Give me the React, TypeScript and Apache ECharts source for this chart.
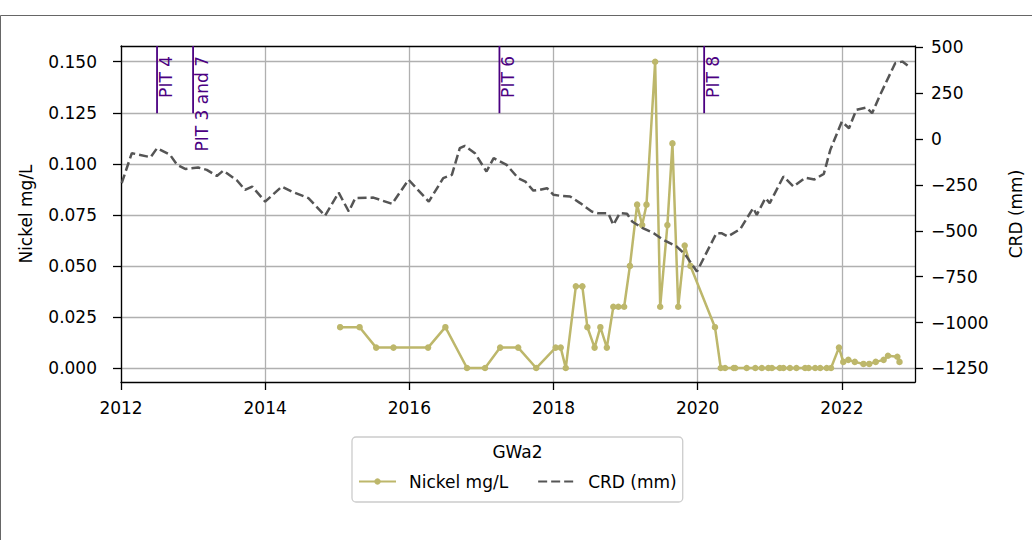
import React, { useEffect, useRef } from 'react';
import * as echarts from 'echarts';

// ---- data (decimal years) ----
const nickelDates = [
  2015.04, 2015.31, 2015.54, 2015.78, 2016.26, 2016.5, 2016.8, 2017.05, 2017.26, 2017.51,
  2017.76, 2018.03, 2018.1, 2018.17, 2018.31, 2018.4, 2018.47, 2018.57, 2018.65, 2018.74,
  2018.83, 2018.9, 2018.98, 2019.06, 2019.16, 2019.23, 2019.29, 2019.41, 2019.48, 2019.58,
  2019.65, 2019.73, 2019.82, 2019.9, 2020.24, 2020.32, 2020.38, 2020.5, 2020.52, 2020.68,
  2020.8, 2020.89, 2020.98, 2021.03, 2021.14, 2021.19, 2021.28, 2021.37, 2021.49, 2021.54,
  2021.63, 2021.7, 2021.79, 2021.85, 2021.96, 2022.02, 2022.09, 2022.18, 2022.3, 2022.38,
  2022.47, 2022.58, 2022.64, 2022.77, 2022.8,
];
const nickelValues = [
  0.02, 0.02, 0.01, 0.01, 0.01, 0.02, 0, 0, 0.01, 0.01,
  0, 0.01, 0.01, 0, 0.04, 0.04, 0.02, 0.01, 0.02, 0.01,
  0.03, 0.03, 0.03, 0.05, 0.08, 0.07, 0.08, 0.15, 0.03, 0.07,
  0.11, 0.03, 0.06, 0.05, 0.02, 0, 0, 0, 0, 0,
  0, 0, 0, 0, 0, 0, 0, 0, 0, 0,
  0, 0, 0, 0, 0.01, 0.003, 0.004, 0.003, 0.002, 0.002,
  0.003, 0.004, 0.006, 0.0055, 0.003,
];
const crdDates = [
  2012.01, 2012.15, 2012.41, 2012.5, 2012.68, 2012.78, 2012.89, 2013.07, 2013.19, 2013.33,
  2013.42, 2013.61, 2013.72, 2013.82, 2014.0, 2014.23, 2014.37, 2014.6, 2014.83, 2015.02,
  2015.16, 2015.25, 2015.5, 2015.76, 2015.99, 2016.27, 2016.47, 2016.59, 2016.7, 2016.77,
  2016.91, 2017.07, 2017.17, 2017.35, 2017.51, 2017.61, 2017.72, 2017.81, 2017.91, 2018.0,
  2018.09, 2018.23, 2018.37, 2018.53, 2018.62, 2018.76, 2018.83, 2018.92, 2019.02, 2019.09,
  2019.23, 2019.39, 2019.52, 2019.71, 2019.83, 2019.99, 2020.26, 2020.33, 2020.42, 2020.59,
  2020.77, 2020.82, 2020.94, 2021.0, 2021.19, 2021.33, 2021.49, 2021.62, 2021.75, 2021.84,
  2022.0, 2022.1, 2022.2, 2022.34, 2022.42, 2022.53, 2022.74, 2022.84, 2022.92,
];
const crdValues = [
  -240, -77, -99, -50, -86, -141, -163, -155, -168, -201,
  -172, -226, -277, -259, -341, -259, -286, -322, -418, -292,
  -395, -322, -319, -353, -222, -341, -213, -195, -50, -37,
  -77, -177, -104, -141, -213, -232, -281, -277, -268, -304,
  -309, -313, -349, -395, -404, -404, -467, -404, -407, -449,
  -484, -513, -549, -586, -631, -722, -513, -513, -531, -491,
  -376, -413, -322, -349, -204, -259, -211, -220, -190, -59,
  95, 59, 159, 172, 141, 240, 413, 422, 398,
];
const pitYears = [2012.5, 2013.0, 2017.25, 2020.09];
const pitLabels = ['PIT 4', 'PIT 3 and 7', 'PIT 6', 'PIT 8'];
const xTicks = [2012, 2014, 2016, 2018, 2020, 2022];
const nickelTicks = [0, 0.025, 0.05, 0.075, 0.1, 0.125, 0.15];
const crdTicks = [-1250, -1000, -750, -500, -250, 0, 250, 500];

const X_MIN = 2012;
const X_MAX = 2023.015;
const NI_MIN = -0.00685;
const NI_MAX = 0.1577;
const CRD_MIN = -1324;
const CRD_MAX = 507;
const PIT_LINE_BOTTOM = 0.1248;

const FONT = 'DejaVu Sans';
const FS = 17;

export default function App() {
  const ref = useRef<HTMLDivElement>(null);

  useEffect(() => {
    if (!ref.current) return;
    const chart = echarts.init(ref.current, undefined, { renderer: 'svg' });

    const axisLineStyle = { color: '#000', width: 1.3 };
    const gridLineStyle = { color: '#b0b0b0', width: 1.3 };

    const option: any = {
      animation: false,
      textStyle: { fontFamily: FONT },
      grid: { left: 121, top: 46, width: 794, height: 336, containLabel: false },
      xAxis: [
        {
          type: 'value',
          min: X_MIN,
          max: X_MAX,
          position: 'bottom',
          axisLine: { show: true, onZero: false, lineStyle: axisLineStyle },
          axisTick: { show: true, length: 8, customValues: xTicks, lineStyle: axisLineStyle },
          axisLabel: {
            customValues: xTicks,
            margin: 17,
            fontSize: FS,
            color: '#000',
            fontFamily: FONT,
            formatter: (v: number) => String(Math.round(v)),
          },
          splitLine: { show: true, lineStyle: gridLineStyle },
        },
        {
          type: 'value',
          min: X_MIN,
          max: X_MAX,
          position: 'top',
          axisLine: { show: true, onZero: false, lineStyle: axisLineStyle },
          axisTick: { show: false },
          axisLabel: { show: false },
          splitLine: { show: false },
        },
      ],
      yAxis: [
        {
          type: 'value',
          min: NI_MIN,
          max: NI_MAX,
          position: 'left',
          name: 'Nickel mg/L',
          nameLocation: 'middle',
          nameRotate: 90,
          nameGap: 87,
          nameTextStyle: { fontSize: FS, color: '#000', fontFamily: FONT },
          axisLine: { show: true, onZero: false, lineStyle: axisLineStyle },
          axisTick: { show: true, length: 8, customValues: nickelTicks, lineStyle: axisLineStyle },
          axisLabel: {
            customValues: nickelTicks,
            margin: 24,
            fontSize: FS,
            color: '#000',
            fontFamily: FONT,
            formatter: (v: number) => v.toFixed(3),
          },
          splitLine: { show: true, lineStyle: gridLineStyle },
        },
        {
          type: 'value',
          min: CRD_MIN,
          max: CRD_MAX,
          position: 'right',
          name: 'CRD (mm)',
          nameLocation: 'middle',
          nameRotate: 90,
          nameGap: 92,
          nameTextStyle: { fontSize: FS, color: '#000', fontFamily: FONT },
          axisLine: { show: true, onZero: false, lineStyle: axisLineStyle },
          axisTick: { show: true, length: 8, customValues: crdTicks, lineStyle: axisLineStyle },
          axisLabel: {
            customValues: crdTicks,
            margin: 16,
            fontSize: FS,
            color: '#000',
            fontFamily: FONT,
            formatter: (v: number) => (v < 0 ? '\u2212' + Math.abs(v) : String(v)),
          },
          splitLine: { show: false },
        },
      ],
      legend: {
        left: 352,
        top: 437,
        orient: 'horizontal',
        padding: [36, 6, 12, 6],
        itemGap: 29,
        itemWidth: 37,
        itemHeight: 8,
        borderColor: '#cccccc',
        borderWidth: 1.3,
        borderRadius: 4,
        textStyle: { fontSize: FS, color: '#000', fontFamily: FONT, padding: [0, 0, 0, 8] },
        data: [
          { name: 'Nickel mg/L' },
          { name: 'CRD (mm)', itemStyle: { opacity: 0 } },
        ],
      },
      series: [
        {
          name: 'Nickel mg/L',
          type: 'line',
          xAxisIndex: 0,
          yAxisIndex: 0,
          data: nickelDates.map((d, i) => [d, nickelValues[i]]),
          symbol: 'circle',
          symbolSize: 6.5,
          showSymbol: true,
          lineStyle: { color: '#bdb76b', width: 2.5 },
          itemStyle: { color: '#bdb76b' },
          z: 2,
        },
        {
          name: 'CRD (mm)',
          type: 'line',
          xAxisIndex: 0,
          yAxisIndex: 1,
          data: crdDates.map((d, i) => [d, crdValues[i]]),
          symbol: 'none',
          lineStyle: { color: '#555555', width: 2.5, type: [9, 4] },
          itemStyle: { color: '#555555' },
          z: 3,
        },
      ],
    };

    chart.setOption(option);

    const graphics: any[] = [
      {
        type: 'rect',
        shape: { x: 0.5, y: 15.5, width: 1100, height: 600 },
        style: { fill: 'none', stroke: '#666', lineWidth: 1 },
        silent: true,
        z: 0,
      },
      {
        type: 'text',
        x: 517.5,
        y: 452,
        style: {
          text: 'GWa2',
          fill: '#000',
          font: `${FS}px "${FONT}"`,
          textAlign: 'center',
          textVerticalAlign: 'middle',
        },
        z: 10,
      },
    ];
    pitYears.forEach((yr, i) => {
      const pb = chart.convertToPixel({ xAxisIndex: 0, yAxisIndex: 0 }, [yr, PIT_LINE_BOTTOM]) as number[];
      const pt = chart.convertToPixel({ xAxisIndex: 0, yAxisIndex: 0 }, [yr, NI_MAX]) as number[];
      graphics.push({
        type: 'line',
        shape: { x1: pb[0], y1: pb[1], x2: pt[0], y2: pt[1] },
        style: { stroke: '#4b0082', lineWidth: 1.8 },
        z: 10,
      });
      graphics.push({
        type: 'text',
        x: pt[0],
        y: pt[1] + 10,
        rotation: Math.PI / 2,
        style: {
          text: pitLabels[i],
          fill: '#4b0082',
          font: `${FS}px "${FONT}"`,
          textAlign: 'right',
          textVerticalAlign: 'top',
        },
        z: 10,
      });
    });
    chart.setOption({ graphic: graphics });

    return () => chart.dispose();
  }, []);

  return (
    <div
      ref={ref}
      style={{ position: 'fixed', left: 0, top: 0, width: 1032, height: 540, background: '#fff' }}
    />
  );
}
